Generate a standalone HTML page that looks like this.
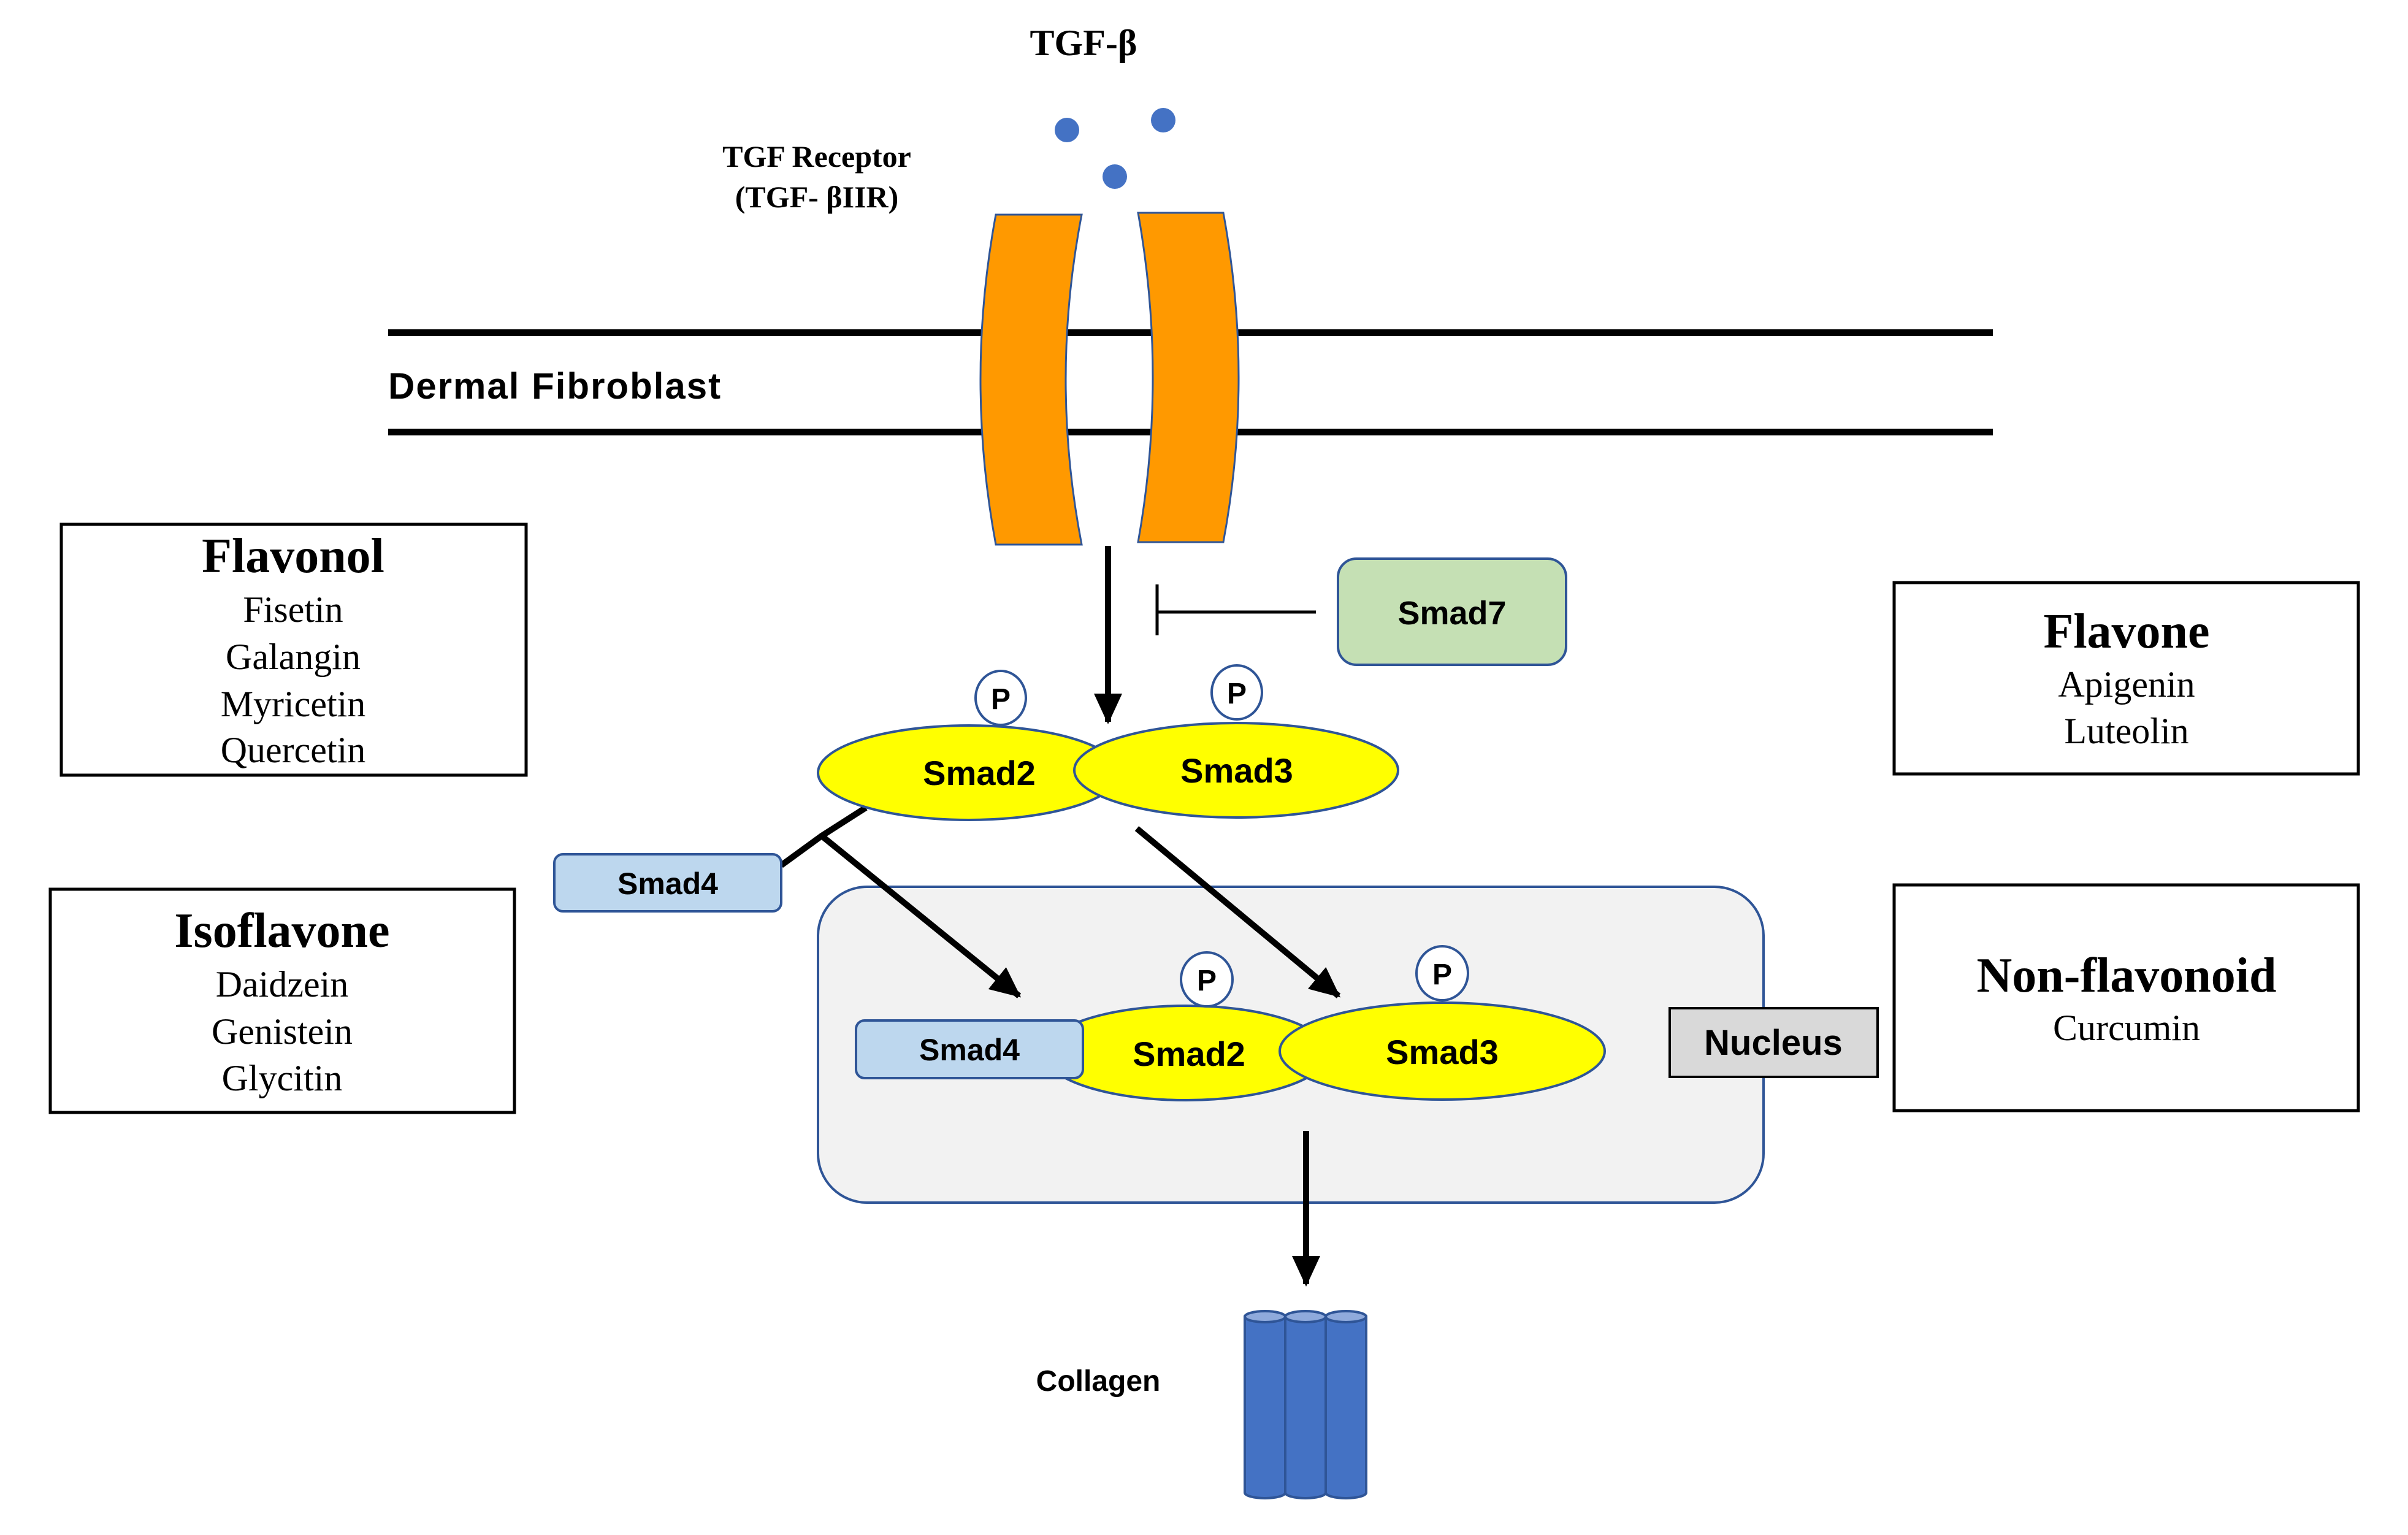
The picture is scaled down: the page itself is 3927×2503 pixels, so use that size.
<!DOCTYPE html>
<html><head><meta charset="utf-8"><style>
html,body{margin:0;padding:0;background:#fff}
svg{display:block}
.sans{font-family:"Liberation Sans",sans-serif;font-weight:bold}
.serif{font-family:"Liberation Serif",serif}
</style></head><body>
<svg width="3927" height="2503" viewBox="0 0 3927 2503" xmlns="http://www.w3.org/2000/svg">
<defs>
<marker id="ah" markerUnits="userSpaceOnUse" markerWidth="50" markerHeight="46" refX="46" refY="23" orient="auto" viewBox="0 0 50 46">
<path d="M0,0 L50,23 L0,46 Z" fill="#000"/></marker>
</defs>
<rect width="3927" height="2503" fill="#fff"/>

<text x="1767" y="90" text-anchor="middle" class="serif" font-weight="bold" font-size="60">TGF-β</text>
<circle cx="1740" cy="212" r="20" fill="#4472c4"/>
<circle cx="1897" cy="196" r="20" fill="#4472c4"/>
<circle cx="1818" cy="288" r="20" fill="#4472c4"/>

<text x="1332" y="272" text-anchor="middle" class="serif" font-weight="bold" font-size="50">TGF Receptor</text>
<text x="1332" y="338" text-anchor="middle" class="serif" font-weight="bold" font-size="50">(TGF- βIIR)</text>

<rect x="633" y="537" width="2617" height="11" fill="#000"/>
<rect x="633" y="699" width="2617" height="11" fill="#000"/>
<text x="633" y="650" class="sans" font-size="60" letter-spacing="2">Dermal Fibroblast</text>

<path d="M1624,350 L1764,350 Q1712,619 1764,888 L1624,888 Q1574,619 1624,350 Z" fill="#ff9900" stroke="#2f5597" stroke-width="3"/>
<path d="M1856,347 L1995,347 Q2045,616 1995,884 L1856,884 Q1904,616 1856,347 Z" fill="#ff9900" stroke="#2f5597" stroke-width="3"/>

<line x1="1807" y1="890" x2="1807" y2="1177" stroke="#000" stroke-width="10" marker-end="url(#ah)"/>

<line x1="1887" y1="998" x2="2146" y2="998" stroke="#000" stroke-width="5"/>
<line x1="1887" y1="953" x2="1887" y2="1036" stroke="#000" stroke-width="5"/>
<rect x="2182" y="911" width="372" height="173" rx="30" fill="#c5e0b4" stroke="#2f5597" stroke-width="4"/>
<text x="2368" y="1018" text-anchor="middle" class="sans" font-size="54">Smad7</text>

<rect x="100" y="855" width="758" height="409" fill="#fff" stroke="#000" stroke-width="5"/>
<text x="478" y="933" text-anchor="middle" class="serif" font-weight="bold" font-size="80">Flavonol</text>
<text x="478" y="1014" text-anchor="middle" class="serif" font-size="60">Fisetin</text>
<text x="478" y="1091" text-anchor="middle" class="serif" font-size="60">Galangin</text>
<text x="478" y="1168" text-anchor="middle" class="serif" font-size="60">Myricetin</text>
<text x="478" y="1243" text-anchor="middle" class="serif" font-size="60">Quercetin</text>

<rect x="82" y="1450" width="757" height="364" fill="#fff" stroke="#000" stroke-width="5"/>
<text x="460" y="1544" text-anchor="middle" class="serif" font-weight="bold" font-size="80">Isoflavone</text>
<text x="460" y="1625" text-anchor="middle" class="serif" font-size="60">Daidzein</text>
<text x="460" y="1702" text-anchor="middle" class="serif" font-size="60">Genistein</text>
<text x="460" y="1778" text-anchor="middle" class="serif" font-size="60">Glycitin</text>

<rect x="3089" y="950" width="757" height="312" fill="#fff" stroke="#000" stroke-width="5"/>
<text x="3468" y="1056" text-anchor="middle" class="serif" font-weight="bold" font-size="80">Flavone</text>
<text x="3468" y="1136" text-anchor="middle" class="serif" font-size="60">Apigenin</text>
<text x="3468" y="1212" text-anchor="middle" class="serif" font-size="60">Luteolin</text>

<rect x="3089" y="1443" width="757" height="368" fill="#fff" stroke="#000" stroke-width="5"/>
<text x="3468" y="1617" text-anchor="middle" class="serif" font-weight="bold" font-size="80">Non-flavonoid</text>
<text x="3468" y="1696" text-anchor="middle" class="serif" font-size="60">Curcumin</text>

<rect x="1334" y="1446" width="1542" height="515" rx="80" fill="#f2f2f2" stroke="#2f5597" stroke-width="4"/>
<rect x="2723" y="1644" width="339" height="112" fill="#d9d9d9" stroke="#000" stroke-width="4"/>
<text x="2892" y="1720" text-anchor="middle" class="sans" font-size="58">Nucleus</text>

<polyline points="1274,1411 1340,1363 1412,1317" fill="none" stroke="#000" stroke-width="10"/>
<line x1="1340" y1="1363" x2="1662" y2="1624" stroke="#000" stroke-width="10" marker-end="url(#ah)"/>
<line x1="1854" y1="1351" x2="2183" y2="1624" stroke="#000" stroke-width="10" marker-end="url(#ah)"/>

<rect x="904" y="1393" width="370" height="93" rx="14" fill="#bdd7ee" stroke="#2f5597" stroke-width="4"/>
<text x="1089" y="1458" text-anchor="middle" class="sans" font-size="50">Smad4</text>

<ellipse cx="1580" cy="1260" rx="246" ry="77" fill="#ffff00" stroke="#2f5597" stroke-width="4"/>
<ellipse cx="2016" cy="1256" rx="264" ry="77" fill="#ffff00" stroke="#2f5597" stroke-width="4"/>
<text x="1597" y="1280" text-anchor="middle" class="sans" font-size="56">Smad2</text>
<text x="2017" y="1276" text-anchor="middle" class="sans" font-size="56">Smad3</text>
<ellipse cx="1632" cy="1138" rx="41" ry="44" fill="#fff" stroke="#2f5597" stroke-width="4"/>
<text x="1632" y="1156" text-anchor="middle" class="sans" font-size="48">P</text>
<ellipse cx="2017" cy="1129" rx="41" ry="44" fill="#fff" stroke="#2f5597" stroke-width="4"/>
<text x="2017" y="1147" text-anchor="middle" class="sans" font-size="48">P</text>

<ellipse cx="1934" cy="1717" rx="232" ry="77" fill="#ffff00" stroke="#2f5597" stroke-width="4"/>
<rect x="1396" y="1664" width="370" height="94" rx="14" fill="#bdd7ee" stroke="#2f5597" stroke-width="4"/>
<text x="1581" y="1729" text-anchor="middle" class="sans" font-size="50">Smad4</text>
<ellipse cx="2352" cy="1714" rx="265" ry="79" fill="#ffff00" stroke="#2f5597" stroke-width="4"/>
<text x="1939" y="1738" text-anchor="middle" class="sans" font-size="56">Smad2</text>
<text x="2352" y="1735" text-anchor="middle" class="sans" font-size="56">Smad3</text>
<ellipse cx="1968" cy="1597" rx="42" ry="44" fill="#fff" stroke="#2f5597" stroke-width="4"/>
<text x="1968" y="1615" text-anchor="middle" class="sans" font-size="48">P</text>
<ellipse cx="2352" cy="1587" rx="42" ry="44" fill="#fff" stroke="#2f5597" stroke-width="4"/>
<text x="2352" y="1605" text-anchor="middle" class="sans" font-size="48">P</text>

<line x1="2130" y1="1844" x2="2130" y2="2094" stroke="#000" stroke-width="10" marker-end="url(#ah)"/>

<g stroke="#2f5597" stroke-width="4">
<path d="M2030,2147 L2030,2434 A33,9 0 0 0 2096,2434 L2096,2147 Z" fill="#4472c4"/>
<ellipse cx="2063" cy="2147" rx="33" ry="9" fill="#8faadc"/>
<path d="M2096,2147 L2096,2434 A33,9 0 0 0 2162,2434 L2162,2147 Z" fill="#4472c4"/>
<ellipse cx="2129" cy="2147" rx="33" ry="9" fill="#8faadc"/>
<path d="M2162,2147 L2162,2434 A33,9 0 0 0 2228,2434 L2228,2147 Z" fill="#4472c4"/>
<ellipse cx="2195" cy="2147" rx="33" ry="9" fill="#8faadc"/>
</g>
<text x="1791" y="2268" text-anchor="middle" class="sans" font-size="48">Collagen</text>
</svg>
</body></html>
